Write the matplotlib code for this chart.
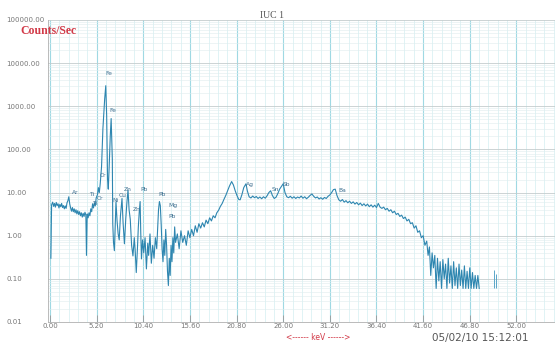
import matplotlib.pyplot as plt
from matplotlib.ticker import MultipleLocator, LogLocator, FixedLocator, NullFormatter

# spectrum (keV, counts/sec)
energy = [0.10, 0.18, 0.3, 0.4, 0.5, 0.6, 0.7, 0.8, 0.9, 1.0, 1.1, 1.2, 1.3, 1.4, 1.5, 1.6, 1.7, 1.8, 1.9,
          2.0, 2.1, 2.2, 2.3, 2.4, 2.5, 2.6, 2.7, 2.8, 2.9, 3.0, 3.1, 3.2, 3.3, 3.4, 3.5, 3.6, 3.7, 3.8,
          3.9, 4.0, 4.07, 4.15, 4.25, 4.35, 4.45, 4.55, 4.65, 4.75, 4.85, 4.95, 5.05, 5.15, 5.3, 5.4,
          5.5, 5.6, 5.75, 5.9, 6.1, 6.22, 6.32, 6.42, 6.5, 6.6, 6.72, 6.82, 6.95,
          7.0, 7.08, 7.18, 7.26, 7.36, 7.48, 7.6, 7.72, 7.85, 8.03, 8.15, 8.3, 8.45, 8.58, 8.70, 8.82,
          8.95, 9.1, 9.25, 9.4, 9.5, 9.62, 9.75, 9.85, 9.95, 10.05, 10.12, 10.2, 10.32, 10.45, 10.6,
          10.75, 10.9, 11.0, 11.15, 11.3, 11.45, 11.6, 11.75, 11.9, 12.0, 12.1, 12.2, 12.3, 12.4, 12.5,
          12.6, 12.7, 12.8, 12.9, 13.0, 13.1, 13.2, 13.3, 13.4, 13.5, 13.6, 13.7, 13.8, 13.9,
          14.0, 14.2, 14.4, 14.6, 14.8, 15.0, 15.2, 15.4, 15.6, 15.8, 16.0, 16.2, 16.4, 16.6, 16.8,
          17.0, 17.2, 17.4, 17.6, 17.8, 18.0, 18.2, 18.4, 18.6, 18.8, 19.0, 19.2, 19.4, 19.6, 19.8,
          20.0, 20.25, 20.45, 20.65, 20.85, 21.05, 21.2, 21.4, 21.6, 21.85, 22.0, 22.2, 22.4, 22.6,
          22.8, 23.0, 23.2, 23.4, 23.6, 23.8, 24.0, 24.2, 24.4, 24.6, 24.8, 25.0, 25.2, 25.4, 25.6,
          26.0, 26.2, 26.4, 26.6, 26.8, 27.0, 27.2, 27.4, 27.6, 27.8, 28.0, 28.2, 28.4, 28.6, 28.8,
          29.0, 29.2, 29.4, 29.6, 29.8, 30.0, 30.2, 30.4, 30.6, 30.8, 31.0, 31.2, 31.4, 31.6, 31.8,
          32.0, 32.2, 32.4, 32.6, 32.8, 33.0, 33.2, 33.4, 33.6, 33.8, 34.0, 34.2, 34.4, 34.6, 34.8,
          35.0, 35.2, 35.4, 35.6, 35.8, 36.0, 36.2, 36.4, 36.6, 36.8, 37.0, 37.2, 37.4, 37.6, 37.8,
          38.0, 38.2, 38.4, 38.6, 38.8, 39.0, 39.2, 39.4, 39.6, 39.8, 40.0, 40.2, 40.4, 40.6, 40.8,
          41.0, 41.2, 41.4, 41.6, 41.8, 42.0, 42.15, 42.3, 42.45, 42.6, 42.75, 42.9, 43.05, 43.2,
          43.35, 43.5, 43.65, 43.8, 43.95, 44.1, 44.25, 44.4, 44.55, 44.7, 44.85, 45.0, 45.15, 45.3,
          45.45, 45.6, 45.75, 45.9, 46.05, 46.2, 46.35, 46.5, 46.65, 46.8, 46.95, 47.1, 47.25, 47.4,
          47.55, 47.7, 47.85]
counts = [0.30, 5.2, 6.0, 4.8, 5.6, 4.6, 5.9, 5.0, 5.5, 4.4, 5.3, 4.7, 5.6, 4.5, 5.0, 4.2, 4.9, 4.3, 5.8,
          6.5, 8.0, 5.5, 4.4, 3.7, 4.5, 3.6, 4.2, 3.4, 4.0, 3.2, 3.8, 3.1, 3.6, 2.9, 3.4, 2.7, 3.3, 2.8,
          3.5, 3.0, 0.35, 3.2, 2.6, 3.4, 2.9, 4.2, 3.6, 5.5, 4.4, 5.8, 4.9, 7.5, 9.0, 13,
          10, 16, 40, 300, 1500, 3000, 600, 20, 12, 40, 200, 520, 60,
          1.9, 0.7, 0.45, 1.5, 6.0, 2.2, 1.1, 0.8, 2.8, 7.3, 2.0, 0.65, 2.5, 6.0, 11.5, 4.0,
          2.4, 0.6, 0.34, 0.9, 0.45, 0.14, 0.5, 1.6, 3.5, 6.2, 1.2, 0.29, 0.8, 0.4, 0.9,
          0.17, 0.67, 0.35, 1.1, 0.23, 0.6, 0.3, 0.9, 0.5, 1.5, 4.0, 6.2, 5.0, 1.8, 0.49,
          0.25, 0.8, 0.35, 1.4, 0.6, 0.15, 0.07, 0.3, 0.12, 0.6, 0.25, 0.9, 0.4, 1.6,
          0.7, 1.1, 0.5, 1.3, 0.7, 1.0, 0.6, 1.3, 0.9, 1.4, 1.0, 1.7, 1.2, 1.9, 1.5,
          2.0, 1.6, 2.3, 1.9, 2.6, 2.2, 2.9, 2.6, 3.4, 3.9, 4.8, 5.6, 7.0, 8.6, 11,
          14, 18, 15, 11, 8.5, 6.9, 6.8, 9.0, 13, 16, 11, 8.0, 7.5, 8.3,
          7.6, 8.1, 7.3, 7.9, 7.2, 8.0, 7.4, 8.4, 10.0, 11, 8.5, 7.3, 7.8, 9.5, 12,
          16, 10, 8.0, 7.6, 8.2, 7.4, 8.0, 7.3, 7.9, 7.5, 8.3, 7.4, 8.0, 7.2, 7.8,
          8.6, 9.3, 8.2, 7.5, 7.9, 7.1, 7.6, 7.0, 7.7, 7.3, 8.2, 8.8, 10.0, 11.7, 12,
          8.5, 6.8, 6.3, 6.9, 6.0, 6.5, 5.8, 6.3, 5.6, 6.1, 5.4, 5.9, 5.2, 5.7, 5.0,
          5.5, 4.9, 5.4, 4.7, 5.2, 4.6, 5.1, 4.5, 5.6, 4.6, 4.3, 4.6, 4.0, 4.3, 3.7,
          4.0, 3.4, 3.7, 3.1, 3.3, 2.8, 3.0, 2.5, 2.7, 2.2, 2.4, 1.9, 2.0, 1.5, 1.7,
          1.2, 1.3, 0.9, 1.0, 0.6, 0.75, 0.35, 0.55, 0.12, 0.40, 0.18, 0.35, 0.06, 0.30,
          0.09, 0.25, 0.06, 0.28, 0.1, 0.22, 0.06, 0.3, 0.08, 0.2, 0.06, 0.25, 0.07, 0.18,
          0.06, 0.22, 0.07, 0.16, 0.06, 0.2, 0.06, 0.15, 0.06, 0.18, 0.06, 0.14, 0.06, 0.12,
          0.06, 0.12, 0.06]

# two isolated spikes far right
spike_e = [49.45, 49.75]
spike_lo = [0.06, 0.06]
spike_hi = [0.16, 0.13]

# element markers written on the chart
el_names = ['Ar', 'Ti', 'Ti', 'Cr', 'Cr', 'Fe', 'Fe', 'Ni', 'Cu', 'Zn', 'Zn', 'Pb', 'Pb',
            'Mg', 'Pb', 'Ag', 'Sn', 'Sb', 'Ba']
el_kev = [2.8, 4.65, 4.95, 5.55, 5.9, 6.6, 7.0, 7.3, 8.1, 8.7, 9.7, 10.5, 12.5,
          13.7, 13.6, 22.3, 25.1, 26.4, 32.6]
el_cps = [9.0, 8.1, 4.8, 6.3, 22, 5000, 690, 5.6, 7.3, 10.5, 3.5, 10.5, 7.7,
          4.3, 2.4, 13.5, 10.2, 13.5, 10.0]

xticks = [0.0, 5.2, 10.4, 15.6, 20.8, 26.0, 31.2, 36.4, 41.6, 46.8, 52.0]
yticks = [0.01, 0.1, 1, 10, 100, 1000, 10000, 100000]

fig = plt.figure(figsize=(5.55, 3.44), dpi=100)
ax = fig.add_axes([48 / 555, 22 / 344, 507 / 555, 302 / 344])

ax.plot(energy, counts, color='#2e86b0', lw=0.8)
ax.vlines(spike_e, spike_lo, spike_hi, color='#5aa6c8', lw=0.7)

for name, e, c in zip(el_names, el_kev, el_cps):
    ax.text(e, c, name, fontsize=4.3, color='#3d6f90', ha='center', va='bottom')

ax.set_yscale('log')
ax.set_ylim(0.01, 100000)
ax.set_xlim(-0.22, 56.3)

ax.xaxis.set_major_locator(FixedLocator(xticks))
ax.set_xticklabels(['%.2f' % v for v in xticks])
ax.xaxis.set_minor_locator(MultipleLocator(1.04))
ax.yaxis.set_major_locator(FixedLocator(yticks))
ax.set_yticklabels(['%.2f' % v for v in yticks])
ax.yaxis.set_minor_locator(LogLocator(base=10, subs=range(2, 10), numticks=20))
ax.yaxis.set_minor_formatter(NullFormatter())

ax.tick_params(axis='x', which='major', direction='in', length=5, width=0.6, color='#999999',
               labelsize=5, labelcolor='#777777', pad=1)
ax.tick_params(axis='y', which='major', length=0, labelsize=5, labelcolor='#777777', pad=30)
for lbl in ax.get_yticklabels():
    lbl.set_horizontalalignment('left')
ax.tick_params(which='minor', length=0)

ax.grid(which='major', axis='x', color='#9fd9e3', lw=0.8)
ax.grid(which='minor', axis='x', color='#d3eef2', lw=0.5)
ax.grid(which='major', axis='y', color='#c4cccd', lw=0.6)
ax.grid(which='minor', axis='y', color='#dfecee', lw=0.4)

for s in ['top', 'right']:
    ax.spines[s].set_visible(False)
ax.spines['left'].set_color('#b0b0b0')
ax.spines['left'].set_linewidth(0.6)
ax.spines['bottom'].set_color('#b0b0b0')
ax.spines['bottom'].set_linewidth(0.6)

fig.text(20 / 555, 1 - 31 / 344, 'Counts/Sec', color='#d23a48', fontsize=8.5,
         family='Liberation Serif', weight='bold', va='center')
fig.text(272 / 555, 1 - 15 / 344, 'IUC 1', color='#555555', fontsize=7,
         family='Liberation Serif', ha='center', va='center')
fig.text(318 / 555, 1 - 338 / 344, '<------ keV ------>', color='#d23a48', fontsize=5.5,
         ha='center', va='center')
fig.text(432 / 555, 1 - 338 / 344, '05/02/10 15:12:01', color='#555555', fontsize=7.5,
         ha='left', va='center')

fig.savefig('out.png', dpi=100, facecolor='white')
